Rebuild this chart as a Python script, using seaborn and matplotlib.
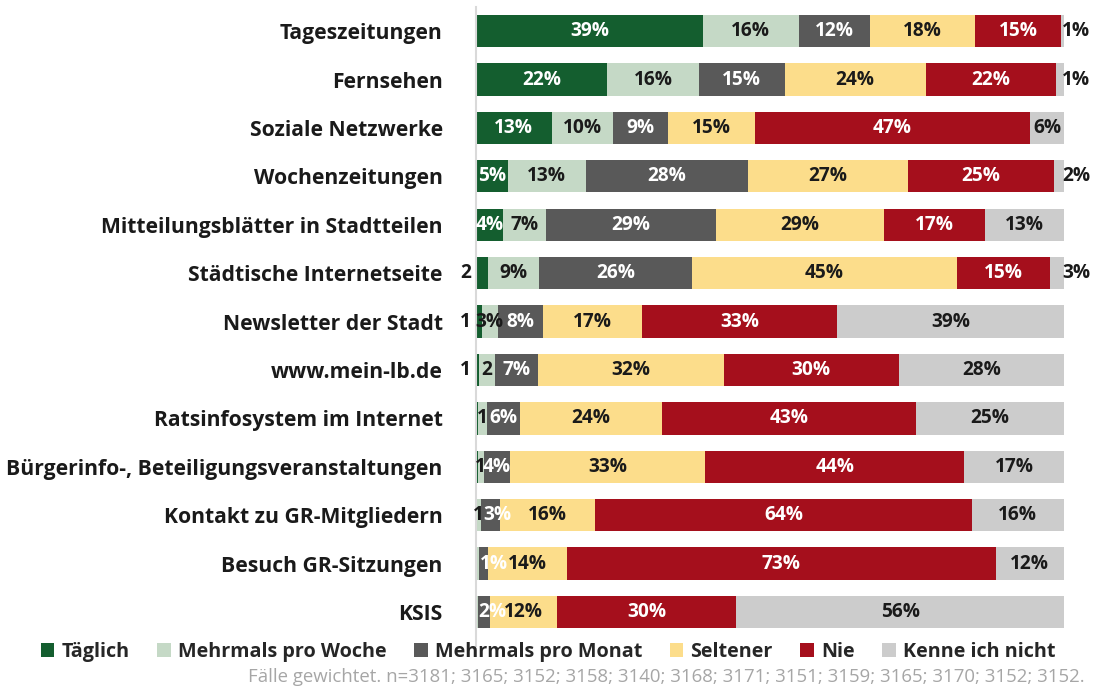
import matplotlib
matplotlib.use("Agg")
import matplotlib.pyplot as plt
import seaborn as sns
import pandas as pd
import numpy as np
from matplotlib.patches import Patch

categories = [
    "Tageszeitungen", "Fernsehen", "Soziale Netzwerke", "Wochenzeitungen",
    "Mitteilungsblätter in Stadtteilen", "Städtische Internetseite",
    "Newsletter der Stadt", "www.mein-lb.de", "Ratsinfosystem im Internet",
    "Bürgerinfo-, Beteiligungsveranstaltungen", "Kontakt zu GR-Mitgliedern",
    "Besuch GR-Sitzungen", "KSIS",
]
series = ["Täglich", "Mehrmals pro Woche", "Mehrmals pro Monat", "Seltener", "Nie", "Kenne ich nicht"]

taeglich = [38.6, 22.3, 12.9, 5.4, 4.6, 2.0, 1.0, 0.5, 0.4, 0.3, 0.0, 0.0, 0.0]
pro_woche = [16.3, 15.6, 10.4, 13.3, 7.3, 8.8, 2.7, 2.7, 1.5, 1.0, 0.9, 0.5, 0.3]
pro_monat = [12.1, 14.6, 9.4, 27.6, 28.9, 25.9, 7.7, 7.3, 5.6, 4.4, 3.2, 1.5, 2.0]
seltener = [17.9, 24.0, 14.8, 27.2, 28.6, 45.1, 16.8, 31.6, 24.1, 33.3, 16.2, 13.4, 11.4]
nie = [14.6, 22.1, 46.7, 24.8, 17.2, 15.8, 33.2, 29.8, 43.2, 44.0, 64.0, 73.0, 30.6]
kenne_nicht = [0.5, 1.4, 5.8, 1.7, 13.4, 2.4, 38.6, 28.1, 25.2, 17.0, 15.7, 11.6, 55.7]

# labels as printed in the chart
lab_taeglich = ["39%", "22%", "13%", "5%", "4%", "2", "1", "1", "", "", "", "", ""]
lab_woche = ["16%", "16%", "10%", "13%", "7%", "9%", "3%", "2", "1", "1", "1", "", ""]
lab_monat = ["12%", "15%", "9%", "28%", "29%", "26%", "8%", "7%", "6%", "4%", "3%", "1%", "2%"]
lab_seltener = ["18%", "24%", "15%", "27%", "29%", "45%", "17%", "32%", "24%", "33%", "16%", "14%", "12%"]
lab_nie = ["15%", "22%", "47%", "25%", "17%", "15%", "33%", "30%", "43%", "44%", "64%", "73%", "30%"]
lab_kenne = ["1%", "1%", "6%", "2%", "13%", "3%", "39%", "28%", "25%", "17%", "16%", "12%", "56%"]

footnote = "Fälle gewichtet. n=3181; 3165; 3152; 3158; 3140; 3168; 3171; 3151; 3159; 3165; 3170; 3152; 3152."

colors = ["#145e2f", "#c5d9c6", "#595959", "#fcdd8b", "#a50f1c", "#cccccc"]
text_colors = ["white", "#1a1a1a", "white", "#1a1a1a", "white", "#1a1a1a"]

values = [taeglich, pro_woche, pro_monat, seltener, nie, kenne_nicht]
labels = [lab_taeglich, lab_woche, lab_monat, lab_seltener, lab_nie, lab_kenne]

df = pd.DataFrame({s: v for s, v in zip(series, values)})
df["Kategorie"] = categories
cum = df[series].cumsum(axis=1)

sns.set_theme(style="white")
plt.rcParams["font.family"] = ["Open Sans", "DejaVu Sans"]

fig = plt.figure(figsize=(10.96, 6.89), dpi=100)
ax = fig.add_axes([0.4343, 0.0766, 0.5365, 0.9134])

# draw cumulative bars from the back so each segment shows its own share
for i in range(len(series) - 1, -1, -1):
    sns.barplot(x=cum[series[i]], y=df["Kategorie"], color=colors[i],
                orient="h", width=0.667, ax=ax, saturation=1, linewidth=0)

for i, s in enumerate(series):
    starts = cum[s] - df[s]
    for r in range(len(categories)):
        txt = labels[i][r]
        if not txt:
            continue
        w = df[s][r]
        x0 = starts[r]
        color = text_colors[i]
        ha = "center"
        x = x0 + w / 2
        if i == 0 and "%" not in txt:
            x, ha, color = -0.9, "right", "#1a1a1a"
        elif i == 5 and w < 3:
            x, ha = 99.7, "left"
        elif i == 2 and w < 3:
            x, ha = x0 + 0.1, "left"
        elif i == 2 and w < 3.5:
            x, ha = x0 + 0.3, "left"
        ax.text(x, r, txt, ha=ha, va="center", color=color,
                fontsize=13.8, fontweight="bold", clip_on=False)

ax.set_xlim(0, 100)
ax.set_ylim(12.5, -0.5)
ax.set_xlabel("")
ax.set_ylabel("")
ax.set_xticks([])
ax.tick_params(axis="y", length=0, pad=24)
for lab in ax.get_yticklabels():
    lab.set_fontweight("bold")
    lab.set_fontsize(15.2)
    lab.set_color("#1a1a1a")
for sp in ["top", "right", "bottom"]:
    ax.spines[sp].set_visible(False)
ax.spines["left"].set_color("#d9d9d9")
ax.spines["left"].set_linewidth(1.5)
ax.spines["left"].set_bounds(12.7, -0.5)

handles = [Patch(facecolor=c, edgecolor="none") for c in colors]
fig.legend(handles, series, loc="center", bbox_to_anchor=(0.5, 0.054), ncol=6,
           frameon=False, handlelength=0.7, handleheight=0.7, handletextpad=0.35,
           columnspacing=1.4, prop={"family": "Open Sans", "weight": "bold", "size": 14.2})

fig.text(0.99, 0.018, footnote, ha="right", va="center", color="#a6a6a6", fontsize=13.4)

fig.savefig("out.png", dpi=100)
